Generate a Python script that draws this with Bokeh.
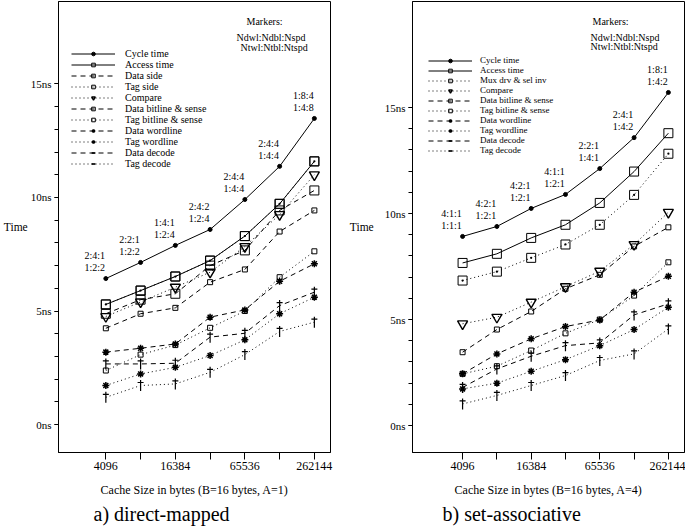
from bokeh.plotting import figure
from bokeh.layouts import row
from bokeh.models import (ColumnDataSource, FixedTicker, BasicTickFormatter,
                          Legend, LegendItem, Label, Title)
from bokeh.core.properties import value
from bokeh.embed import file_html
from bokeh.resources import INLINE

SERIF = "Liberation Serif"
FRAME_H = 451

sizes = [4096, 8192, 16384, 32768, 65536, 131072, 262144]
x_ticks = [4096, 16384, 65536, 262144]
x_minor = [8192, 32768, 131072]
y_ticks = [0, 5, 10, 15]
y_minor = list(range(16))
y_labels = {0: "0ns", 5: "5ns", 10: "10ns", 15: "15ns"}

# a) direct-mapped (ns)
dm_cycle = [6.43, 7.14, 7.89, 8.59, 9.91, 11.37, 13.48]
dm_access = [5.29, 5.90, 6.52, 7.22, 8.30, 9.72, 11.59]
dm_data_side = [4.88, 5.50, 5.76, 7.00, 7.67, 9.43, 10.31]
dm_tag_side = [5.29, 5.90, 6.52, 7.22, 8.30, 9.72, 11.59]
dm_compare = [4.76, 5.40, 6.05, 6.71, 7.84, 9.25, 11.00]
dm_data_bitline = [4.24, 4.88, 5.14, 6.27, 6.83, 8.50, 9.43]
dm_tag_bitline = [2.38, 3.08, 3.50, 4.26, 5.00, 6.49, 7.63]
dm_data_wordline = [3.19, 3.36, 3.55, 4.73, 5.05, 6.31, 7.08]
dm_tag_wordline = [1.72, 2.23, 2.52, 3.04, 3.73, 4.88, 5.61]
dm_data_decode = [2.67, 2.67, 2.70, 3.85, 4.02, 5.24, 5.83]
dm_tag_decode = [1.20, 1.72, 1.79, 2.30, 3.08, 4.10, 4.51]
dm_top = ["2:4:1", "2:2:1", "1:4:1", "2:4:2", "2:4:4", "2:4:4", "1:8:4"]
dm_bot = ["1:2:2", "1:2:2", "1:2:4", "1:2:4", "1:4:4", "1:4:4", "1:4:8"]

# b) set-associative (ns)
sa_cycle = [8.92, 9.39, 10.24, 10.90, 12.12, 13.58, 15.71]
sa_access = [7.67, 8.10, 8.85, 9.47, 10.50, 11.98, 13.79]
sa_mux = [6.84, 7.26, 7.91, 8.54, 9.47, 10.88, 12.82]
sa_compare = [4.80, 5.11, 5.82, 6.55, 7.28, 8.54, 10.06]
sa_data_bitline = [3.46, 4.53, 5.38, 6.45, 7.11, 8.45, 9.35]
sa_tag_bitline = [2.44, 2.80, 3.54, 4.35, 5.00, 6.13, 7.70]
sa_data_wordline = [2.44, 3.38, 4.09, 4.67, 4.98, 6.29, 7.04]
sa_tag_wordline = [1.73, 2.00, 2.56, 3.11, 3.77, 4.53, 5.58]
sa_data_decode = [1.80, 2.67, 3.27, 3.77, 3.90, 5.22, 5.74]
sa_tag_decode = [1.02, 1.42, 1.89, 2.36, 3.07, 3.38, 4.56]
sa_top = ["4:1:1", "4:2:1", "4:2:1", "4:1:1", "2:2:1", "2:4:1", "1:8:1"]
sa_bot = ["1:1:1", "1:2:1", "1:2:1", "1:2:1", "1:4:1", "1:4:2", "1:4:2"]

SOLID, DASHED, DOTTED = "solid", "5 4", "1 3"

MARKS = {
    "dot": dict(marker="circle", size=4, fill_color="black"),
    "square": dict(marker="square", size=9, fill_color=None),
    "square_dot": dict(marker="square_dot", size=9, fill_color=None),
    "nabla": dict(marker="inverted_triangle", size=10, fill_color=None, line_width=1.4),
    "small_square": dict(marker="square", size=5, fill_color=None),
    "asterisk": dict(marker="asterisk", size=7, line_width=1.5),
}


def txt(p, x, y, s, size="10px", align="left"):
    p.add_layout(Label(x=x, y=y, x_units="screen", y_units="screen", text=s,
                       text_font=SERIF, text_font_size=size, text_color="black",
                       text_align=align, text_baseline="middle"))


def panel(series, tops, bots, x_lo, x_hi, y_lo, y_hi, width, b_left, b_right,
          time_gap, xlabel, caption, cap_off, head, leg_x, leg_y, leg_font,
          standoff):
    p = figure(width=width, height=531, x_axis_type="log",
               x_range=(2 ** x_lo, 2 ** x_hi), y_range=(y_lo, y_hi),
               output_backend="svg", toolbar_location=None,
               min_border_left=b_left, min_border_right=b_right,
               min_border_top=1, min_border_bottom=79)
    p.grid.visible = False
    p.outline_line_color = "black"
    p.outline_line_alpha = 1.0
    p.background_fill_color = "white"
    p.border_fill_color = "white"

    for ax in (p.xaxis[0], p.yaxis[0]):
        ax.axis_line_color = "black"
        ax.major_tick_line_color = "black"
        ax.minor_tick_line_color = "black"
        ax.major_tick_in = 0
        ax.minor_tick_in = 0
        ax.major_label_text_font = SERIF
        ax.major_label_text_font_size = "12px"
        ax.major_label_text_color = "black"
        ax.axis_label_text_font = SERIF
        ax.axis_label_text_font_size = "12px"
        ax.axis_label_text_font_style = "normal"
        ax.axis_label_text_color = "black"

    xa = p.xaxis[0]
    xa.ticker = FixedTicker(ticks=x_ticks, minor_ticks=x_minor)
    xa.formatter = BasicTickFormatter(use_scientific=False)
    xa.major_tick_out = 7
    xa.minor_tick_out = 7
    xa.major_label_standoff = 2
    xa.axis_label = xlabel
    xa.axis_label_standoff = 10

    ya = p.yaxis[0]
    ya.ticker = FixedTicker(ticks=y_ticks, minor_ticks=y_minor)
    ya.major_label_overrides = y_labels
    ya.major_label_text_font_size = "11px"
    ya.axis_label_text_font_size = "11.5px"
    ya.major_tick_out = 4
    ya.minor_tick_out = 4
    ya.major_label_standoff = 3
    ya.axis_label = "Time"
    ya.axis_label_orientation = "horizontal"
    ya.axis_label_standoff = time_gap

    # small upward shift (3 px) of the dagger's crossbar, in data units
    bar_dy = 3 * (y_hi - y_lo) / FRAME_H

    items = []
    for name, vals, dash, mark in series:
        src = ColumnDataSource(dict(x=sizes, y=vals))
        rs = [p.line("x", "y", source=src, line_color="black", line_width=1,
                     line_dash=dash)]
        if mark == "dagger":
            rs.append(p.scatter("x", "y", source=src, marker="dash", angle=90,
                                angle_units="deg", size=11, line_color="black",
                                line_width=1.2))
            bar = ColumnDataSource(dict(x=sizes, y=[v + bar_dy for v in vals]))
            rs.append(p.scatter("x", "y", source=bar, marker="dash", size=6,
                                line_color="black", line_width=1.2))
        else:
            rs.append(p.scatter("x", "y", source=src, line_color="black",
                                **MARKS[mark]))
        items.append(LegendItem(label=name, renderers=rs))

    # Ndwl:Ndbl:Nspd / Ntwl:Ntbl:Ntspd over the cycle time points
    ann = ColumnDataSource(dict(x=sizes, y=series[0][1], top=tops, bot=bots))
    for col, off in (("top", -23), ("bot", -11)):
        p.text("x", "y", text=col, source=ann, x_offset=-11, y_offset=off,
               text_align="center", text_baseline="middle",
               text_font=value(SERIF), text_font_size="10px", text_color="black")

    leg = Legend(items=items, location=(leg_x, leg_y), padding=0,
                 spacing=0, margin=0, glyph_width=44, glyph_height=9,
                 label_height=9, label_standoff=standoff,
                 label_text_font=SERIF, label_text_font_size=leg_font,
                 label_text_color="black", border_line_alpha=0,
                 background_fill_alpha=0)
    p.add_layout(leg)

    for hx, hy, s in head:
        txt(p, hx, hy, s)

    p.add_layout(Title(text=caption, align="left", offset=cap_off, standoff=7,
                       vertical_align="top",
                       text_font=SERIF, text_font_size="20px",
                       text_font_style="normal", text_color="black"), "below")
    return p


dm_series = [
    ("Cycle time", dm_cycle, SOLID, "dot"),
    ("Access time", dm_access, SOLID, "square"),
    ("Data side", dm_data_side, DASHED, "square"),
    ("Tag side", dm_tag_side, DOTTED, "square_dot"),
    ("Compare", dm_compare, DOTTED, "nabla"),
    ("Data bitline & sense", dm_data_bitline, DASHED, "small_square"),
    ("Tag bitline & sense", dm_tag_bitline, DOTTED, "small_square"),
    ("Data wordline", dm_data_wordline, DASHED, "asterisk"),
    ("Tag wordline", dm_tag_wordline, DOTTED, "asterisk"),
    ("Data decode", dm_data_decode, DASHED, "dagger"),
    ("Tag decode", dm_tag_decode, DOTTED, "dagger"),
]

sa_series = [
    ("Cycle time", sa_cycle, SOLID, "dot"),
    ("Access time", sa_access, SOLID, "square"),
    ("Mux drv & sel inv", sa_mux, DOTTED, "square_dot"),
    ("Compare", sa_compare, DOTTED, "nabla"),
    ("Data bitline & sense", sa_data_bitline, DASHED, "small_square"),
    ("Tag bitline & sense", sa_tag_bitline, DOTTED, "small_square"),
    ("Data wordline", sa_data_wordline, DASHED, "asterisk"),
    ("Tag wordline", sa_tag_wordline, DOTTED, "asterisk"),
    ("Data decode", sa_data_decode, DASHED, "dagger"),
    ("Tag decode", sa_tag_decode, DOTTED, "dagger"),
]

p1 = panel(dm_series, dm_top, dm_bot, 10.638, 18.464, -1.23, 18.63,
           340, 57, 10, 0,
           "Cache Size in bytes (B=16 bytes, A=1)", "a) direct-mapped", 35,
           [(188, 431, "Markers:"), (178, 415, "Ndwl:Ndbl:Nspd"),
            (182, 405, "Ntwl:Ntbl:Ntspd")], 13, 283, "10px", 10)
p2 = panel(sa_series, sa_top, sa_bot, 10.54, 18.47, -1.27, 20.0,
           345, 72, 1, 8,
           "Cache Size in bytes (B=16 bytes, A=4)", "b) set-associative", 30,
           [(180, 431, "Markers:"), (178, 415, "Ndwl:Ndbl:Nspd"),
            (178, 406, "Ntwl:Ntbl:Ntspd")], 16, 297, "9px", 8)

layout = row(p1, p2)
open("out.html", "w").write(file_html(layout, INLINE))
